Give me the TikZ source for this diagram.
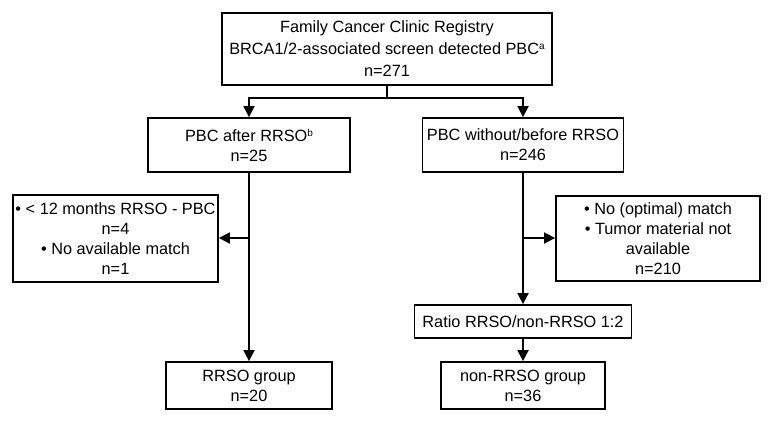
\documentclass[tikz,border=0pt]{standalone}
\usepackage{fontspec}
\setmainfont{Liberation Sans}
\usetikzlibrary{arrows.meta}
\newcommand{\supmark}[1]{\raisebox{5pt}{\fontsize{10}{10}\selectfont #1}}
\begin{document}
\begin{tikzpicture}[x=1pt,y=-1pt,
  box/.style={draw,line width=1.8pt,inner sep=0pt,align=center,
    font=\fontsize{16.3}{20}\selectfont},
  arr/.style={line width=1.8pt,-{Triangle[length=11pt,width=11pt]}},
  ln/.style={line width=1.8pt}]
\useasboundingbox (0,0) rectangle (775,424);
\node[box,minimum width=330,minimum height=72,font=\fontsize{16.3}{22}\selectfont] (top) at (387,49)
  {Family Cancer Clinic Registry\\BRCA1/2-associated screen detected PBC\supmark{a}\\n=271};
\node[box,minimum width=202,minimum height=54] (after) at (249,145)
  {PBC after RRSO\supmark{b}\\n=25};
\node[box,minimum width=201,minimum height=54] (without) at (523,145)
  {PBC without/before RRSO\\n=246};
\node[box,minimum width=205,minimum height=87] (exl) at (115.5,238.5)
  {• < 12 months RRSO - PBC\\n=4\\• No available match\\n=1};
\node[box,minimum width=204,minimum height=85] (exr) at (658,238.5)
  {• No (optimal) match\\• Tumor material not\\available\\n=210};
\node[box,minimum width=217,minimum height=33] (ratio) at (523,321.5)
  {Ratio RRSO/non-RRSO 1:2};
\node[box,minimum width=166,minimum height=47] (rrso) at (249,385.5)
  {RRSO group\\n=20};
\node[box,minimum width=164,minimum height=47] (non) at (523,385.5)
  {non-RRSO group\\n=36};
\coordinate (split) at (387,98);
\coordinate (jl) at (249,238);
\coordinate (jr) at (523,238);
\draw[ln] (top.south) -- (split);
\draw[arr] (split) -| (after.north);
\draw[arr] (split) -| (without.north);
\draw[arr] (after.south) -- (rrso.north);
\draw[arr] (jl) -- (exl.east |- jl);
\draw[arr] (without.south) -- (ratio.north);
\draw[arr] (jr) -- (exr.west |- jr);
\draw[arr] (ratio.south) -- (non.north);
\end{tikzpicture}
\end{document}
